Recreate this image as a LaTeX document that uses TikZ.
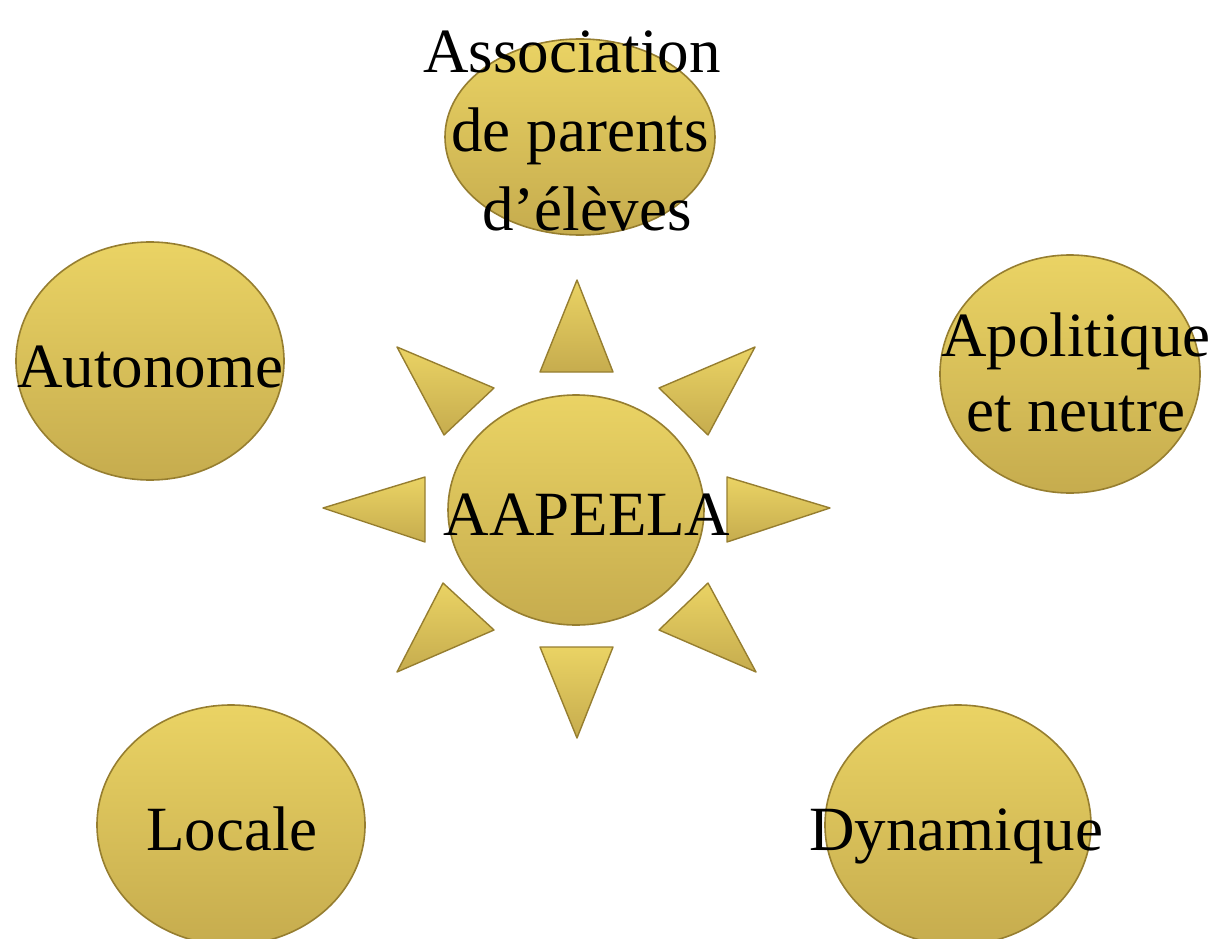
\documentclass[tikz,border=0pt]{standalone}
\usepackage{fontspec}
\setmainfont{Liberation Serif}
\usetikzlibrary{shapes.geometric}
\definecolor{goldA}{RGB}{234,211,100}
\definecolor{goldB}{RGB}{198,172,78}
\definecolor{goldEdge}{RGB}{150,126,48}
\tikzset{
  bubble/.style={shape=ellipse, inner sep=0pt, draw=goldEdge, line width=1.6pt,
    top color=goldA, bottom color=goldB},
  ray/.style={draw=goldEdge, line width=1.4pt, line join=round, top color=goldA, bottom color=goldB},
  txt/.style={font=\fontsize{63}{75}\selectfont, align=center, inner sep=0pt, text=black},
}
\begin{document}
\begin{tikzpicture}[x=1pt,y=-1pt]
\useasboundingbox (0,0) rectangle (1219,939);
% circles
\node[bubble, minimum width=270, minimum height=196] (assoc) at (580,137) {};
\node[bubble, minimum width=268, minimum height=238] (auto) at (150,361) {};
\node[bubble, minimum width=260, minimum height=238] (apol) at (1070,374) {};
\node[bubble, minimum width=256, minimum height=230] (cent) at (576,510) {};
\node[bubble, minimum width=268, minimum height=240] (loc) at (231,825) {};
\node[bubble, minimum width=266, minimum height=240] (dyn) at (958,825) {};
% rays
\path[ray] (577,280) -- (613,372) -- (540,372) -- cycle;
\path[ray] (577,738) -- (613,647) -- (540,647) -- cycle;
\path[ray] (323,508) -- (425,477) -- (425,542) -- cycle;
\path[ray] (830,508) -- (727,477) -- (727,542) -- cycle;
\path[ray] (397,347) -- (494,388) -- (444,435) -- cycle;
\path[ray] (755,347) -- (659,388) -- (708,435) -- cycle;
\path[ray] (443,583) -- (494,630) -- (397,672) -- cycle;
\path[ray] (708,583) -- (659,630) -- (756,672) -- cycle;
% texts
\node[txt, font=\fontsize{63}{79}\selectfont] (tassoc) at (580,131)
  {\hspace*{0pt}Association\hspace*{16pt}\\de parents\\\hspace*{14pt}d’élèves};
\node[txt, anchor=base] (tauto) at (150,387) {Autonome};
\node[txt] (tapol) at (1076,372) {Apolitique\\et neutre};
\node[txt, anchor=base] (tcent) at (587,535) {AAPEELA};
\node[txt, anchor=base] (tloc) at (232,850) {Locale};
\node[txt, anchor=base] (tdyn) at (956,850) {Dynamique};
\end{tikzpicture}
\end{document}
